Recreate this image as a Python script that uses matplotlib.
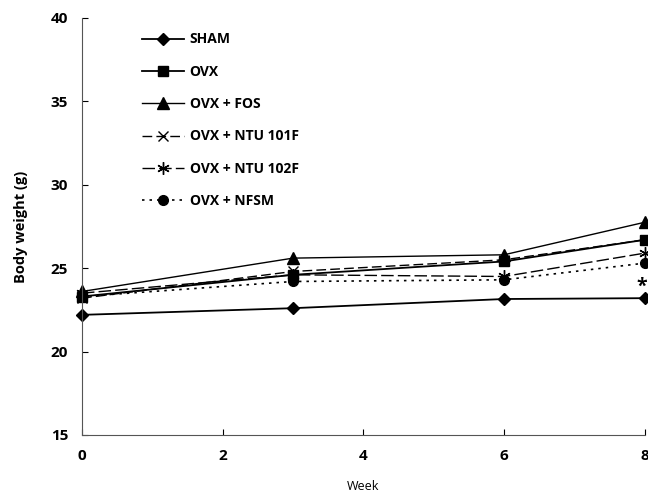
import matplotlib
matplotlib.use('Agg')
import matplotlib.pyplot as plt

# body weight (g) per group over weeks
weeks = [0, 3, 6, 8]
sham = [22.2, 22.6, 23.15, 23.2]
ovx = [23.3, 24.6, 25.4, 26.7]
ovx_fos = [23.6, 25.6, 25.8, 27.75]
ovx_101f = [23.2, 24.8, 25.5, 26.7]
ovx_102f = [23.5, 24.6, 24.5, 25.9]
ovx_nfsm = [23.3, 24.2, 24.3, 25.3]

labels = ['SHAM', 'OVX', 'OVX + FOS', 'OVX + NTU 101F', 'OVX + NTU 102F', 'OVX + NFSM']
x_ticks = [0, 2, 4, 6, 8]
y_ticks = [15, 20, 25, 30, 35, 40]

plt.rcParams['font.family'] = ['Open Sans', 'DejaVu Sans']

fig = plt.figure(figsize=(6.48, 4.96), dpi=100)
ax = fig.add_axes([0.1265, 0.123, 0.8685, 0.841])

k = dict(color='black', clip_on=False)
ax.plot(weeks, sham, '-', marker='D', ms=6, lw=1.3, label=labels[0], **k)
ax.plot(weeks, ovx, '-', marker='s', ms=7, lw=1.3, label=labels[1], **k)
ax.plot(weeks, ovx_fos, '-', marker='^', ms=8, lw=1.0, label=labels[2], **k)
ax.plot(weeks, ovx_101f, linestyle=(0, (7, 3)), marker='x', ms=7, lw=1.0,
        label=labels[3], **k)
ax.plot(weeks, ovx_102f, linestyle=(0, (9, 3)), marker=(6, 2, 0), ms=9, lw=1.0,
        label=labels[4], **k)
ax.plot(weeks, ovx_nfsm, linestyle=(0, (1.5, 3)), marker='o', ms=7, lw=1.2,
        label=labels[5], **k)

# significance mark next to SHAM at week 8
ax.text(7.96, 23.85, '*', fontsize=14, fontweight='bold', va='center', ha='center')

ax.set_xlim(0, 8)
ax.set_ylim(15, 40)
ax.set_xticks(x_ticks)
ax.set_yticks(y_ticks)
ax.tick_params(direction='in', length=4, width=0.8, labelsize=11, pad=10)
for t in ax.get_xticklabels() + ax.get_yticklabels():
    t.set_fontweight('bold')
ax.spines['top'].set_visible(False)
ax.spines['right'].set_visible(False)
ax.spines['left'].set_color('#555555')
ax.spines['bottom'].set_color('#555555')

ax.set_xlabel('Week', fontsize=9, labelpad=12)
ax.set_ylabel('Body weight (g)', fontsize=10.5, fontweight='bold', labelpad=16)

leg = ax.legend(loc='upper left', bbox_to_anchor=(0.085, 0.995), frameon=False,
                handlelength=3.0, labelspacing=1.32, handletextpad=0.4,
                prop={'weight': 'bold', 'size': 10})

fig.savefig('out.png', dpi=100)
